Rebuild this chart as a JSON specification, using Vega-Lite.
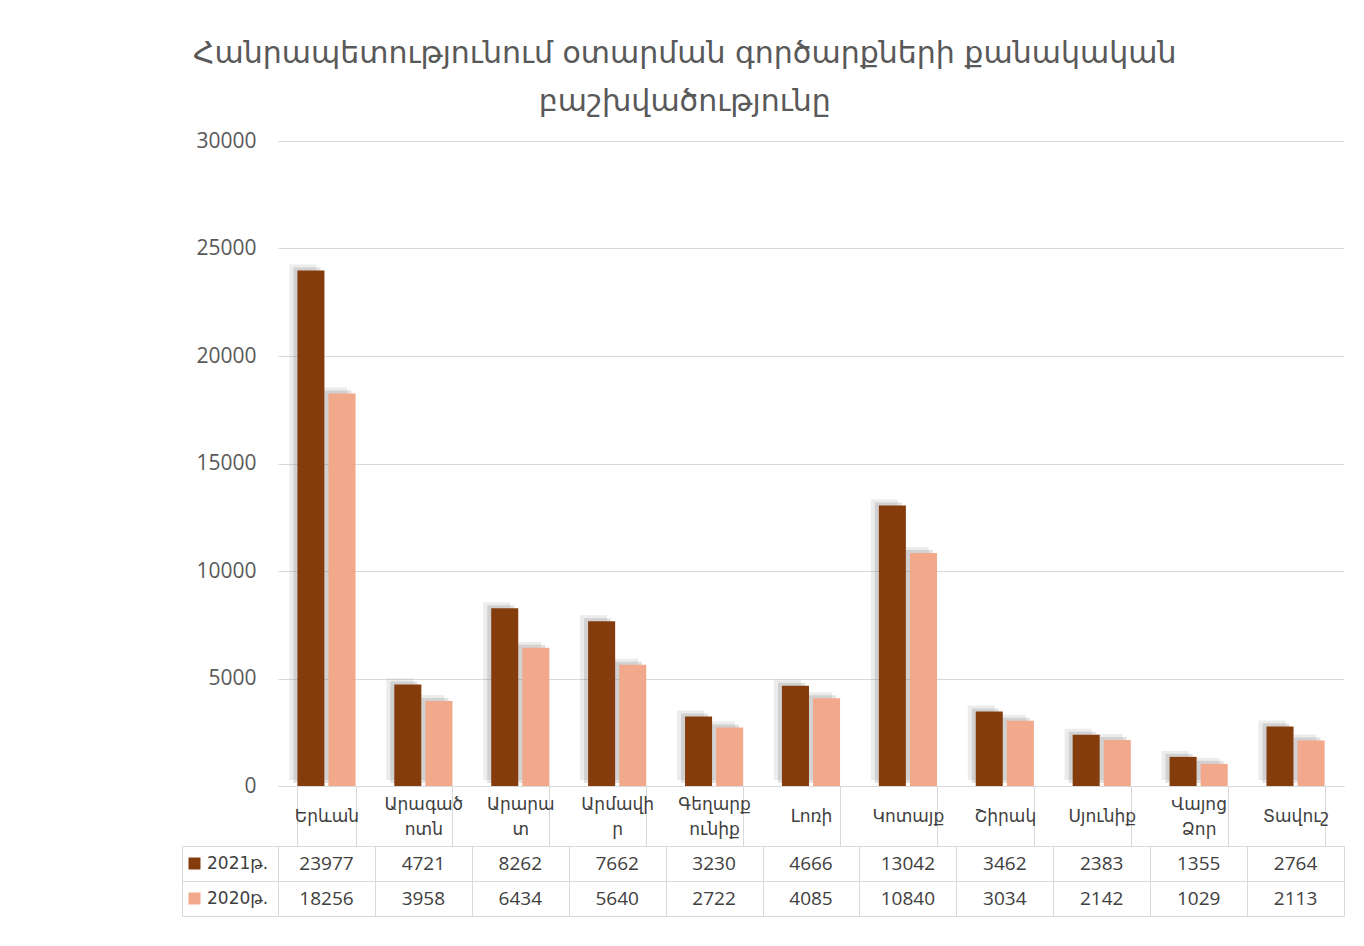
{
  "$schema": "https://vega.github.io/schema/vega-lite/v6.json",
  "background": "white",
  "padding": {"left": 181, "top": 39, "right": 10, "bottom": 10},
  "bounds": "flush",
  "spacing": 60,
  "title": {
    "text": ["Հանրապետությունում օտարման գործարքների քանակական", "բաշխվածությունը"],
    "font": "DejaVu Sans",
    "fontSize": 30,
    "fontWeight": "normal",
    "color": "#595959",
    "lineHeight": 48,
    "anchor": "middle",
    "dx": -78,
    "offset": 13
  },
  "config": {
    "font": "Open Sans",
    "view": {"stroke": null}
  },
  "datasets": {
    "regions": [
      {"region": "Երևան", "year": "2021թ.", "count": 23977},
      {"region": "Արագածոտն", "year": "2021թ.", "count": 4721},
      {"region": "Արարատ", "year": "2021թ.", "count": 8262},
      {"region": "Արմավիր", "year": "2021թ.", "count": 7662},
      {"region": "Գեղարքունիք", "year": "2021թ.", "count": 3230},
      {"region": "Լոռի", "year": "2021թ.", "count": 4666},
      {"region": "Կոտայք", "year": "2021թ.", "count": 13042},
      {"region": "Շիրակ", "year": "2021թ.", "count": 3462},
      {"region": "Սյունիք", "year": "2021թ.", "count": 2383},
      {"region": "Վայոց Ձոր", "year": "2021թ.", "count": 1355},
      {"region": "Տավուշ", "year": "2021թ.", "count": 2764},
      {"region": "Երևան", "year": "2020թ.", "count": 18256},
      {"region": "Արագածոտն", "year": "2020թ.", "count": 3958},
      {"region": "Արարատ", "year": "2020թ.", "count": 6434},
      {"region": "Արմավիր", "year": "2020թ.", "count": 5640},
      {"region": "Գեղարքունիք", "year": "2020թ.", "count": 2722},
      {"region": "Լոռի", "year": "2020թ.", "count": 4085},
      {"region": "Կոտայք", "year": "2020թ.", "count": 10840},
      {"region": "Շիրակ", "year": "2020թ.", "count": 3034},
      {"region": "Սյունիք", "year": "2020թ.", "count": 2142},
      {"region": "Վայոց Ձոր", "year": "2020թ.", "count": 1029},
      {"region": "Տավուշ", "year": "2020թ.", "count": 2113}
    ]
  },
  "vconcat": [
    {
      "width": 1066,
      "height": 645,
      "data": {"name": "regions"},
      "encoding": {
        "x": {
          "field": "region",
          "type": "nominal",
          "sort": null,
          "scale": {"paddingInner": 0.4, "paddingOuter": 0.2},
          "title": null,
          "axis": {
            "orient": "bottom",
            "tickBand": "extent",
            "tickSize": 60,
            "tickColor": "#d9d9d9",
            "domainColor": "#d9d9d9",
            "labelAngle": 0,
            "labelFontSize": 17,
            "labelColor": "#404040",
            "labelFont": "DejaVu Sans",
            "labelBaseline": "middle",
            "labelPadding": {
              "condition": {
                "test": "indexof(['Արագածոտն', 'Արարատ', 'Արմավիր', 'Գեղարքունիք', 'Վայոց Ձոր'], datum.value) >= 0",
                "value": -42
              },
              "value": -30
            },
            "labelLineHeight": 25,
            "labelExpr": "({'Արագածոտն': ['Արագած', 'ոտն'], 'Արարատ': ['Արարա', 'տ'], 'Արմավիր': ['Արմավի', 'ր'], 'Գեղարքունիք': ['Գեղարք', 'ունիք'], 'Վայոց Ձոր': ['Վայոց', 'Ձոր']})[datum.label] || datum.label"
          }
        },
        "y": {
          "field": "count",
          "type": "quantitative",
          "scale": {"domain": [0, 30000]},
          "title": null,
          "axis": {
            "values": [0, 5000, 10000, 15000, 20000, 25000, 30000],
            "format": "d",
            "domain": false,
            "ticks": false,
            "gridColor": "#d9d9d9",
            "labelFontSize": 21,
            "labelColor": "#595959",
            "labelPadding": 22
          }
        }
      },
      "layer": [
        {
          "mark": {"type": "bar", "color": "#7a7a7a", "opacity": 0.14, "yOffset": -6},
          "encoding": {
            "xOffset": {
              "field": "year",
              "type": "nominal",
              "sort": ["2021թ.", "2020թ."],
              "scale": {"paddingInner": 0.13, "range": [-8, 50]}
            }
          }
        },
        {
          "mark": {"type": "bar", "color": "#6a6a6a", "opacity": 0.2, "yOffset": -3},
          "encoding": {
            "xOffset": {
              "field": "year",
              "type": "nominal",
              "sort": ["2021թ.", "2020թ."],
              "scale": {"paddingInner": 0.13, "range": [-4, 54]}
            }
          }
        },
        {
          "mark": {"type": "bar"},
          "encoding": {
            "xOffset": {
              "field": "year",
              "type": "nominal",
              "sort": ["2021թ.", "2020թ."],
              "scale": {"paddingInner": 0.13}
            },
            "color": {
              "field": "year",
              "type": "nominal",
              "sort": ["2021թ.", "2020թ."],
              "scale": {"domain": ["2021թ.", "2020թ."], "range": ["#843C0C", "#F2A88A"]},
              "legend": {
                "title": null,
                "orient": "none",
                "legendX": -92,
                "legendY": 714,
                "symbolType": "square",
                "symbolSize": 144,
                "symbolStrokeWidth": 0,
                "labelFontSize": 17,
                "labelColor": "#404040",
                "labelFont": "DejaVu Sans",
                "rowPadding": 17
              }
            }
          }
        }
      ],
      "resolve": {"scale": {"xOffset": "independent"}}
    },
    {
      "width": 1066,
      "height": 70,
      "data": {"name": "regions"},
      "mark": {"type": "text", "fontSize": 19, "color": "#404040"},
      "encoding": {
        "x": {
          "field": "region",
          "type": "nominal",
          "sort": null,
          "title": null,
          "axis": {
            "labels": false,
            "ticks": false,
            "domain": false,
            "grid": true,
            "tickBand": "extent",
            "gridColor": "#d9d9d9"
          }
        },
        "y": {
          "field": "year",
          "type": "nominal",
          "sort": ["2021թ.", "2020թ."],
          "scale": {"paddingInner": 0, "paddingOuter": 0},
          "title": null,
          "axis": {
            "labels": false,
            "grid": true,
            "tickBand": "extent",
            "gridColor": "#d9d9d9",
            "offset": 96,
            "tickSize": -96,
            "tickColor": "#d9d9d9",
            "domainColor": "#d9d9d9"
          }
        },
        "text": {"field": "count", "type": "quantitative", "format": "d"}
      }
    }
  ]
}
